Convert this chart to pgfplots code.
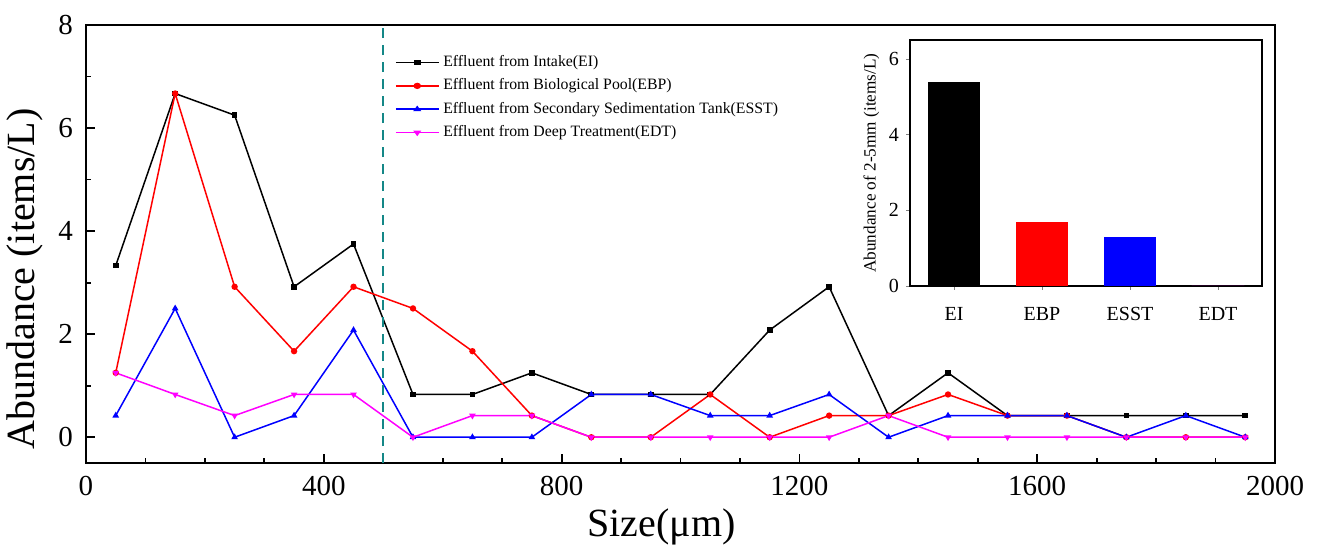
\documentclass[border=0pt]{standalone}
\usepackage{pgfplots}
\pgfplotsset{compat=1.18}
\usepackage{fontspec}
\setmainfont{Liberation Serif}
\definecolor{dashteal}{RGB}{20,135,135}
\definecolor{mag}{RGB}{255,0,255}

\begin{document}
\begin{tikzpicture}
  \begin{axis}[
      name=main,
      scale only axis,
      width=594.5pt, height=219pt,
      xmin=0, xmax=2000, ymin=-0.5, ymax=8,
      xtick={0,400,...,2000},
      minor x tick num=3,
      ytick={0,2,4,6,8},
      minor y tick num=1,
      xtick pos=bottom, ytick pos=left,
      tick align=inside,
      major tick length=4.5pt, minor tick length=2.5pt,
      axis line style={line width=1.2pt},
      every tick/.style={black, line width=0.9pt},
      /pgf/number format/assume math mode=true,
      /pgf/number format/1000 sep={},
      ticklabel style={font=\fontsize{14.5}{16}\selectfont},
      xticklabel style={yshift=-3pt},
      yticklabel style={xshift=-3pt},
      xlabel={Size(μm)},
      ylabel={Abundance (items/L)},
      label style={font=\fontsize{20}{24}\selectfont},
      xlabel style={at={(axis description cs:0.484,-0.146)}, anchor=center},
      ylabel style={at={(axis description cs:-0.051,0.42)}, anchor=center},
      legend style={draw=none, fill=none, font=\fontsize{7.9}{10}\selectfont,
        at={(axis description cs:0.258,0.945)}, anchor=north west,
        row sep=0.6pt, inner sep=1pt},
      legend cell align=left,
      legend image post style={xscale=1.25},
      every axis plot/.append style={line width=0.75pt, mark size=1.2pt},
    ]
    \addplot[black, mark=square*, mark size=1.05pt] coordinates {
      (50,3.33) (150,6.67) (250,6.25) (350,2.92) (450,3.75) (550,0.83)
      (650,0.83) (750,1.25) (850,0.83) (950,0.83) (1050,0.83) (1150,2.08)
      (1250,2.92) (1350,0.42) (1450,1.25) (1550,0.42) (1650,0.42)
      (1750,0.42) (1850,0.42) (1950,0.42)
    };
    \addlegendentry{Effluent from Intake(EI)}
    \addplot[red, mark=*] coordinates {
      (50,1.25) (150,6.67) (250,2.92) (350,1.67) (450,2.92) (550,2.50)
      (650,1.67) (750,0.42) (850,0) (950,0) (1050,0.83) (1150,0)
      (1250,0.42) (1350,0.42) (1450,0.83) (1550,0.42) (1650,0.42)
      (1750,0) (1850,0) (1950,0)
    };
    \addlegendentry{Effluent from Biological Pool(EBP)}
    \addplot[blue, mark=triangle*] coordinates {
      (50,0.42) (150,2.50) (250,0) (350,0.42) (450,2.08) (550,0)
      (650,0) (750,0) (850,0.83) (950,0.83) (1050,0.42) (1150,0.42)
      (1250,0.83) (1350,0) (1450,0.42) (1550,0.42) (1650,0.42)
      (1750,0) (1850,0.42) (1950,0)
    };
    \addlegendentry{Effluent from Secondary Sedimentation Tank(ESST)}
    \addplot[mag, mark=triangle*, mark options={rotate=180}] coordinates {
      (50,1.25) (150,0.83) (250,0.42) (350,0.83) (450,0.83) (550,0)
      (650,0.42) (750,0.42) (850,0) (950,0) (1050,0) (1150,0)
      (1250,0) (1350,0.42) (1450,0) (1550,0) (1650,0)
      (1750,0) (1850,0) (1950,0)
    };
    \addlegendentry{Effluent from Deep Treatment(EDT)}
    \draw[dashteal, line width=1pt, dash pattern=on 5pt off 3.5pt]
      (axis cs:500,-0.5) -- (axis cs:500,8);
  \end{axis}

  \begin{axis}[
      at={(412pt,211.5pt)}, anchor=north west,
      scale only axis,
      width=176pt, height=123pt,
      axis background/.style={fill=white},
      ybar, bar width=0.6, bar shift=0pt,
      xmin=-0.5, xmax=3.5, ymin=0, ymax=6.5,
      xtick={0,1,2,3},
      xticklabels={EI,EBP,ESST,EDT},
      ytick={0,2,4,6},
      xtick pos=bottom, ytick pos=left,
      tick align=outside,
      major tick length=2pt,
      axis line style={line width=0.6pt},
      /pgf/number format/assume math mode=true,
      ticklabel style={font=\fontsize{10}{12}\selectfont},
      xticklabel style={yshift=-5pt},
      ylabel={Abundance of 2-5mm (items/L)},
      ylabel style={font=\fontsize{8.6}{10}\selectfont, yshift=-2pt},
    ]
    \addplot[draw=none, fill=black] coordinates {(0,5.4)};
    \addplot[draw=none, fill=red] coordinates {(1,1.7)};
    \addplot[draw=none, fill=blue] coordinates {(2,1.3)};
    \addplot[draw=none, fill=mag] coordinates {(3,0)};
  \end{axis}

  \pgfresetboundingbox
  \path ([shift={(-43pt,-42pt)}]main.south west)
    rectangle ([shift={(22.5pt,12.5pt)}]main.north east);
\end{tikzpicture}
\end{document}
